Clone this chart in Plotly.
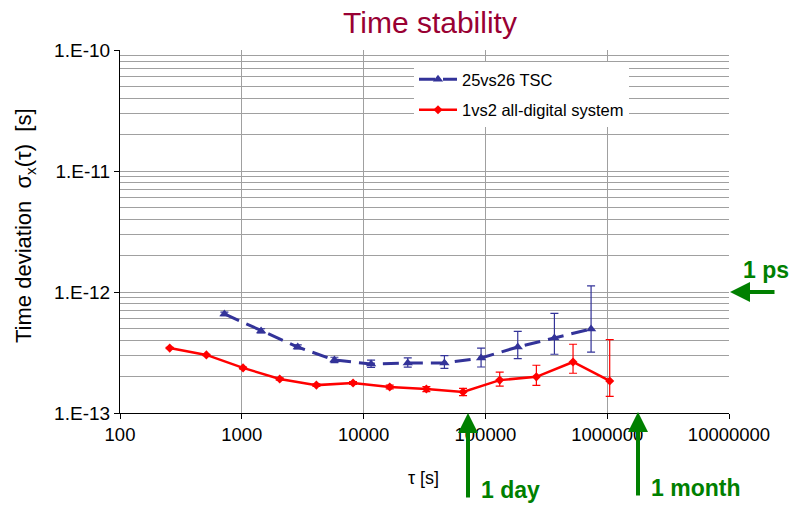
import plotly.graph_objects as go

# ---- data ----
blue_name = "25vs26 TSC"
blue_tau = [720, 1440, 2880, 5760, 11520, 23040, 46080, 92160, 184320, 368640, 737280]
blue_sigma = [6.58e-13, 4.77e-13, 3.51e-13, 2.74e-13, 2.54e-13, 2.59e-13, 2.59e-13,
              2.85e-13, 3.51e-13, 4.17e-13, 4.95e-13]
blue_err_plus = [0.25e-13, 0.20e-13, 0.15e-13, 0.15e-13, 0.20e-13, 0.27e-13, 0.39e-13,
                 0.59e-13, 1.22e-13, 2.50e-13, 6.30e-13]
blue_err_minus = [0.20e-13, 0.18e-13, 0.13e-13, 0.13e-13, 0.16e-13, 0.20e-13, 0.25e-13,
                  0.45e-13, 0.70e-13, 1.11e-13, 1.77e-13]

red_name = "1vs2 all-digital system"
red_tau = [256, 512, 1024, 2048, 4096, 8192, 16384, 32768, 65536, 131072, 262144,
           524288, 1048576]
red_sigma = [3.44e-13, 3.02e-13, 2.36e-13, 1.91e-13, 1.70e-13, 1.77e-13, 1.64e-13,
             1.58e-13, 1.49e-13, 1.87e-13, 1.99e-13, 2.64e-13, 1.84e-13]
red_err_plus = [0.04e-13, 0.04e-13, 0.04e-13, 0.04e-13, 0.04e-13, 0.05e-13, 0.06e-13,
                0.07e-13, 0.11e-13, 0.31e-13, 0.49e-13, 1.06e-13, 2.20e-13]
red_err_minus = [0.04e-13, 0.04e-13, 0.04e-13, 0.04e-13, 0.04e-13, 0.05e-13, 0.06e-13,
                 0.08e-13, 0.10e-13, 0.20e-13, 0.30e-13, 0.51e-13, 0.47e-13]

x_tickvals = [100, 1000, 10000, 100000, 1000000, 10000000]
x_ticktext = ["100", "1000", "10000", "100000", "1000000", "10000000"]
y_tickvals = [1e-13, 1e-12, 1e-11, 1e-10]
y_ticktext = ["1.E-13", "1.E-12", "1.E-11", "1.E-10"]

title_text = "Time stability"
x_title = "τ [s]"
y_title = "Time deviation\u00a0\u00a0σ<sub>x</sub>(τ)\u00a0\u00a0[s]"

# ---- figure ----
FONT = "Arial, Liberation Sans, sans-serif"
BLUE = "#333399"
RED = "#ff0000"
GREEN = "#008000"
GRID = "#a0a0a0"

fig = go.Figure()
fig.add_trace(go.Scatter(
    x=blue_tau, y=blue_sigma, name=blue_name, mode="lines+markers",
    legendgroup="a",
    line=dict(color=BLUE, width=3, dash="16px,8px"),
    marker=dict(symbol="triangle-up", size=9, color=BLUE),
    error_y=dict(type="data", symmetric=False, array=blue_err_plus,
                 arrayminus=blue_err_minus, color=BLUE, thickness=1.2, width=4),
))
fig.add_trace(go.Scatter(
    x=red_tau, y=red_sigma, name=red_name, mode="lines+markers",
    legendgroup="b",
    line=dict(color=RED, width=2.5),
    marker=dict(symbol="diamond", size=7, color=RED),
    error_y=dict(type="data", symmetric=False, array=red_err_plus,
                 arrayminus=red_err_minus, color=RED, thickness=1.2, width=4),
))

minor_y = [m * 10.0 ** e for e in range(-13, -10) for m in range(2, 10)]

fig.update_xaxes(
    type="log", range=[2, 7],
    tickvals=x_tickvals, ticktext=x_ticktext,
    showgrid=True, gridcolor=GRID, gridwidth=1,
    showline=True, linecolor="black", linewidth=1.2,
    ticks="outside", ticklen=5, tickcolor="black",
    tickfont=dict(family=FONT, size=18.5, color="black"),
    zeroline=False,
)
fig.update_yaxes(
    type="log", range=[-13, -10],
    tickvals=y_tickvals, ticktext=y_ticktext,
    showgrid=True, gridcolor=GRID, gridwidth=1,
    minor=dict(tickvals=minor_y, showgrid=True, gridcolor=GRID, gridwidth=1, ticks=""),
    showline=True, linecolor="black", linewidth=1.2,
    ticks="outside", ticklen=5, tickcolor="black",
    tickfont=dict(family=FONT, size=19, color="black"),
    zeroline=False,
)

fig.update_layout(
    width=792, height=506,
    margin=dict(l=120, r=63, t=50, b=93),
    paper_bgcolor="white", plot_bgcolor="white",
    title=dict(text=title_text, font=dict(family=FONT, size=30, color="#990033"),
               x=(430 - 120) / 609, xref="paper", xanchor="center",
               y=1 - 22.5 / 506, yref="container", yanchor="middle"),
    showlegend=True,
    legend=dict(x=(414 - 120) / 609, y=(413 - 62) / 363, xanchor="left", yanchor="top",
                bgcolor="white", borderwidth=0, itemwidth=38,
                font=dict(family=FONT, size=16.5, color="black"),
                traceorder="grouped", tracegroupgap=6),
)

# axis titles
fig.add_annotation(x=(25 - 120) / 609, y=(413 - 226) / 363, xref="paper", yref="paper",
                   text=y_title, textangle=-90, showarrow=False,
                   xanchor="center", yanchor="middle",
                   font=dict(family=FONT, size=22, color="black"))
fig.add_annotation(x=(423 - 120) / 609, y=(413 - 478) / 363, xref="paper", yref="paper",
                   text=x_title, showarrow=False, xanchor="center", yanchor="middle",
                   font=dict(family=FONT, size=18, color="black"))

# arrows and labels (green)
def arrow(px_tip, py_tip, ax, ay):
    fig.add_annotation(
        x=(px_tip - 120) / 609, y=(413 - py_tip) / 363, xref="paper", yref="paper",
        ax=ax, ay=ay, axref="pixel", ayref="pixel",
        text="", showarrow=True, arrowhead=2, arrowsize=1, arrowwidth=4,
        arrowcolor=GREEN,
    )

def label(px, py, txt):
    fig.add_annotation(
        x=(px - 120) / 609, y=(413 - py) / 363, xref="paper", yref="paper",
        text="<b>%s</b>" % txt, showarrow=False, xanchor="left", yanchor="middle",
        font=dict(family=FONT, size=23, color=GREEN),
    )

arrow(730, 292, 46, 0)
arrow(468, 413, 0, 86)
arrow(638, 412, 0, 85)
label(741, 270, "1 ps")
label(479, 490, "1 day")
label(649, 488, "1 month")

fig.write_html("out.html", config={"displayModeBar": False},
               post_script="document.body.style.margin='0px';document.body.style.overflow='hidden';")
